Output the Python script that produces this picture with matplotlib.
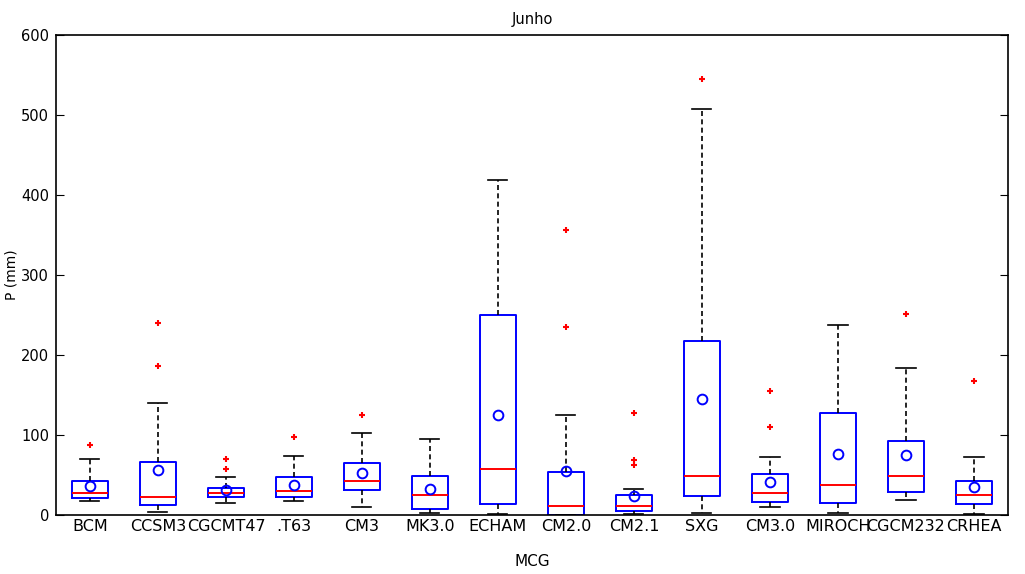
import numpy as np
import matplotlib.pyplot as plt

# models (x axis) and box statistics, P in mm
models = ['BCM', 'CCSM3', 'CGCMT47', '.T63', 'CM3', 'MK3.0', 'ECHAM',
          'CM2.0', 'CM2.1', 'SXG', 'CM3.0', 'MIROCH', 'CGCM232', 'CRHEA']
whislo = [17, 4, 15, 17.5, 10, 2, 1, 0, 1, 3, 9.6, 3, 19, 1]
q1 = [21, 12.5, 23, 22, 31, 7.5, 14, 0, 4.6, 24, 16.5, 14.6, 29, 13.7]
med = [28, 23, 28, 30, 42, 25, 58, 11, 11, 49, 27.5, 37, 49, 25]
q3 = [43, 66, 34, 48, 65, 49, 250, 53.5, 25, 217, 51, 128, 93, 42]
whishi = [70, 140, 47, 74, 103, 95, 419, 125, 32.5, 507, 73, 238, 184, 73]
means = [36, 56, 31, 38, 52, 32.5, 125, 55, 24, 145.5, 41.6, 76, 74.6, 35]
fliers = [[88], [186, 240], [57, 70], [97], [125], [], [],
          [235, 356], [62, 69, 127], [545], [110, 155.6], [], [251], [168]]

stats = []
for i in range(len(models)):
    stats.append({'whislo': whislo[i], 'q1': q1[i], 'med': med[i], 'q3': q3[i],
                  'whishi': whishi[i], 'mean': means[i], 'fliers': fliers[i],
                  'label': models[i]})

plt.rcParams['font.family'] = 'DejaVu Sans'

fig = plt.figure(figsize=(10.25, 5.74), dpi=100)
ax = fig.add_axes([0.0546, 0.1028, 0.9288, 0.8362])

ax.bxp(stats, positions=np.arange(1, len(models) + 1), widths=0.52,
       showmeans=True, showfliers=True, patch_artist=False, capwidths=0.28,
       boxprops=dict(color='blue', linewidth=1.4),
       medianprops=dict(color='red', linewidth=1.4),
       whiskerprops=dict(color='black', linestyle=(0, (3, 2)), linewidth=1.2),
       capprops=dict(color='black', linewidth=1.2),
       flierprops=dict(marker='+', markeredgecolor='red', markersize=5,
                       markeredgewidth=1.5, linestyle='none'),
       meanprops=dict(marker='o', markeredgecolor='blue', markerfacecolor='none',
                      markersize=7, markeredgewidth=1.4))

ax.set_xlim(0.5, len(models) + 0.5)
ax.set_ylim(0, 600)
ax.set_yticks(np.arange(0, 601, 100))
ax.tick_params(axis='y', direction='in', length=6, right=True, labelsize=10.5, pad=5)
ax.tick_params(axis='x', length=0, labelsize=11.5, pad=3)
for s in ax.spines.values():
    s.set_linewidth(1.2)

ax.set_title('Junho', fontsize=10.5, pad=8)
ax.set_xlabel('MCG', fontsize=11, labelpad=14)
ax.set_ylabel('P (mm)', fontsize=10, labelpad=2)

fig.savefig('out.png', dpi=100)
